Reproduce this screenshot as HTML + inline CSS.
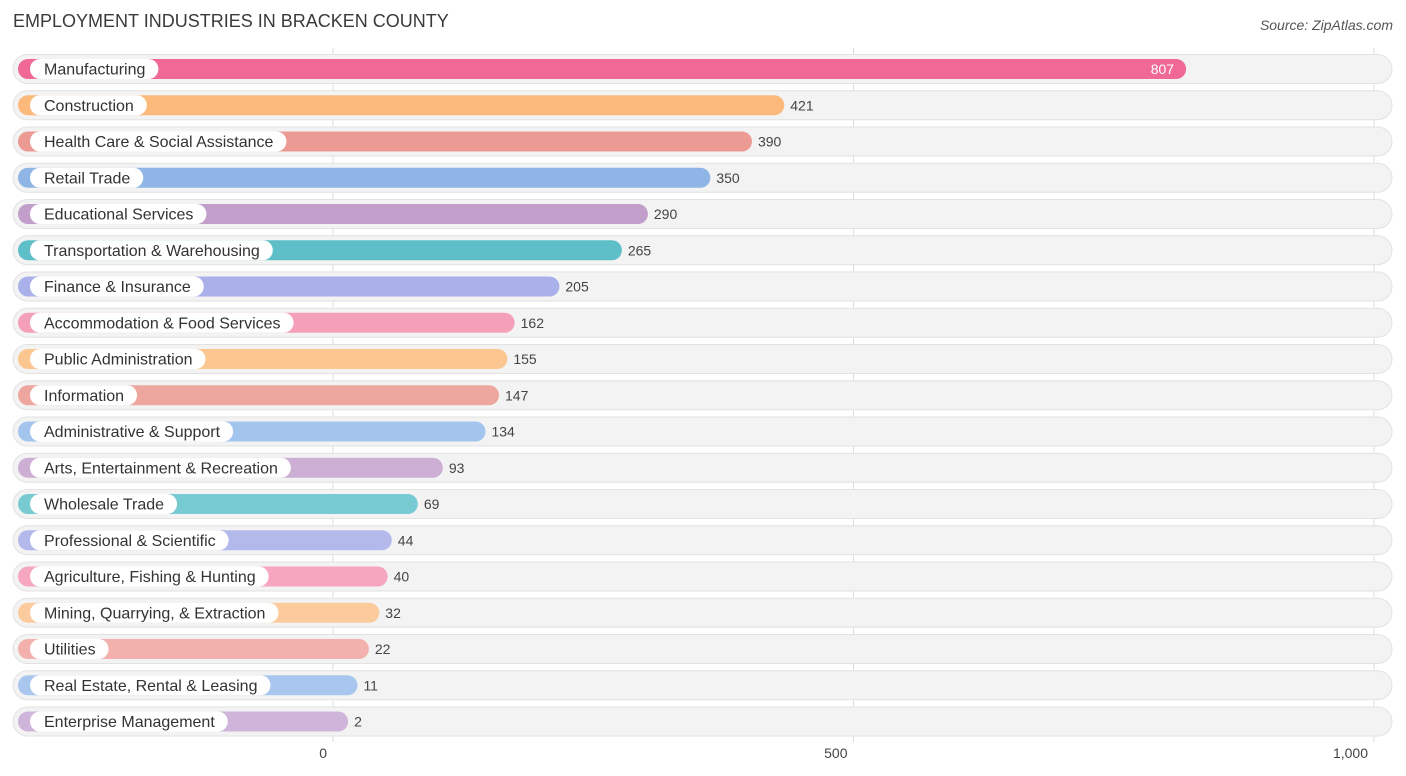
<!DOCTYPE html>
<html><head><meta charset="utf-8"><style>
body{margin:0;background:#fff;font-family:"Liberation Sans",sans-serif;}
#wrap{position:relative;width:1406px;height:776px;overflow:hidden;}
.title{position:absolute;left:13px;top:11px;font-size:18px;color:#3a3a3a;}
.src{position:absolute;right:13px;top:17px;font-size:14px;font-style:italic;color:#555;}
</style></head><body>
<div id="wrap">
<div class="title">EMPLOYMENT INDUSTRIES IN BRACKEN COUNTY</div>
<div class="src">Source: ZipAtlas.com</div>
<svg id="svg" width="1406" height="776" style="position:absolute;left:0;top:0"></svg>
</div>
<script>
const categories=["Manufacturing","Construction","Health Care & Social Assistance","Retail Trade","Educational Services","Transportation & Warehousing","Finance & Insurance","Accommodation & Food Services","Public Administration","Information","Administrative & Support","Arts, Entertainment & Recreation","Wholesale Trade","Professional & Scientific","Agriculture, Fishing & Hunting","Mining, Quarrying, & Extraction","Utilities","Real Estate, Rental & Leasing","Enterprise Management"];
const values=[807,421,390,350,290,265,205,162,155,147,134,93,69,44,40,32,22,11,2];
const colors=["#f06895","#fbb97c","#ec9b94","#8fb5e6","#c29fca","#5fbfc9","#a9b0ea","#f5a0b9","#fbc690","#eea79e","#a3c4ec","#cdaed5","#78cad3","#b4b9ec","#f6a6be","#fbcb9d","#f2b1ac","#a9c7ee","#cfb5da"];
const ticks=[0,500,1000];
const tickLabels=["0","500","1,000"];
const NS="http://www.w3.org/2000/svg";
const svg=document.getElementById('svg');
const x0=333,scale=(1374-333)/1000;
const xv=v=>x0+v*scale;
const rowY=i=>69+i*36.25;
function mk(t,a){const e=document.createElementNS(NS,t);for(const k in a)e.setAttribute(k,a[k]);svg.appendChild(e);return e;}
ticks.forEach((t,i)=>{
 const g=mk('line',{x1:xv(t),x2:xv(t),y1:48,y2:742,stroke:'#ddd','stroke-width':1});
 
 
});
categories.forEach((c,i)=>{
 const y=rowY(i);
 const bg=mk('rect',{x:13,y:y-14.5,width:1379,height:29,rx:14.5,fill:'#f3f3f3',stroke:'#e2e2e2','stroke-width':1});
 
 
 const end=xv(values[i])+13;
 const b=mk('rect',{x:18,y:y-10,width:end-18,height:20,rx:10,fill:colors[i]});
 
 
 const p=mk('rect',{x:30,y:y-10,width:100,height:20,rx:10,fill:'#fff'});
 
 
 const t=mk('text',{x:44,y:y+5.5,'font-size':16,fill:'#333','font-family':'Liberation Sans, sans-serif'});
 t.textContent=c;
 
 
 p.setAttribute('width',t.getComputedTextLength()+27);
 const inside=i===0;
 const v=mk('text',{x:inside?end-12:end+6,y:y+5,'font-size':14,fill:inside?'#fff':'#444','text-anchor':inside?'end':'start','font-family':'Liberation Sans, sans-serif'});
 v.textContent=values[i];
 
 
});
ticks.forEach((t,i)=>{
 const l=mk('text',{x:xv(t)-6,y:758,'font-size':14,fill:'#444','text-anchor':'end','font-family':'Liberation Sans, sans-serif'});
 l.textContent=tickLabels[i];
 
 
});
</script>
</body></html>
